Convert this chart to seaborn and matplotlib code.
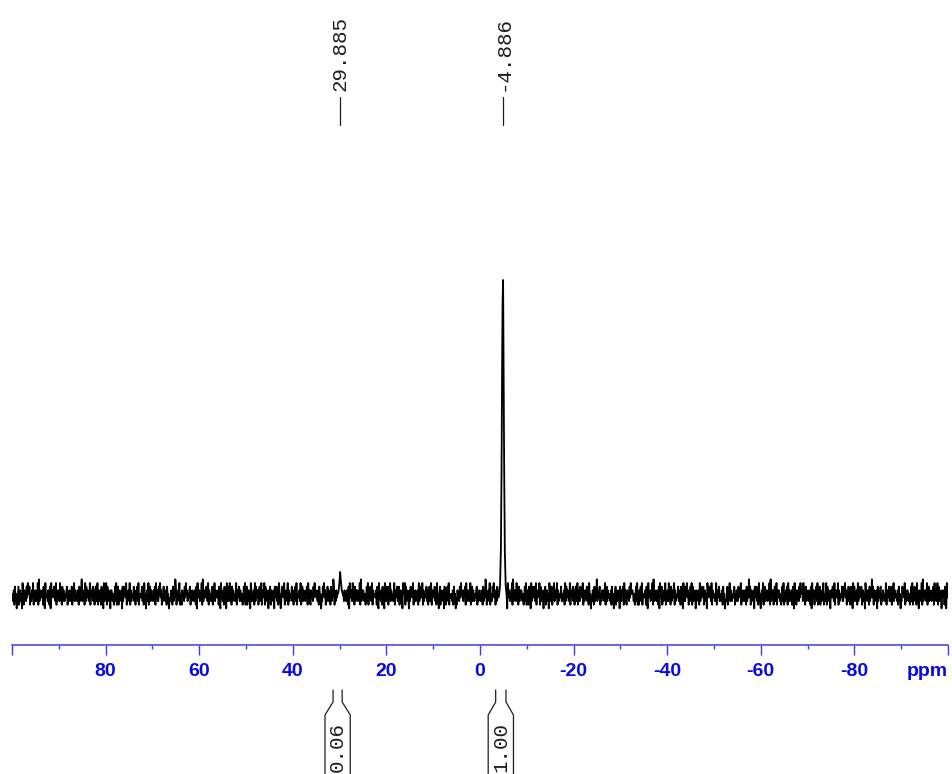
import numpy as np
import pandas as pd
import matplotlib
matplotlib.use("Agg")
import matplotlib.pyplot as plt
from matplotlib.ticker import FixedLocator, FixedFormatter, MultipleLocator
import seaborn as sns

# ---- spectrum data -------------------------------------------------------
# chemical-shift window (ppm), drawn from high to low field
ppm_left, ppm_right = 100.0, -100.0

# picked peaks and their printed labels
peak_ppm = [29.885, -4.886]
peak_labels = ["29.885", "-4.886"]

# line profile of each peak: offset from the peak position (ppm) and intensity
minor_offsets = [-0.6, -0.35, -0.15, 0.0, 0.15, 0.35, 0.6]
minor_heights = [0.0, 0.015, 0.045, 0.073, 0.04, 0.01, 0.0]
main_offsets = [-0.8, -0.6, -0.42, -0.28, -0.15, -0.05, 0.06, 0.16, 0.28, 0.42, 0.6, 0.8]
main_heights = [0.0, 0.03, 0.14, 0.40, 0.77, 1.0, 0.93, 0.73, 0.40, 0.15, 0.03, 0.0]
peak_halfwindow = [0.65, 0.85]

# integral regions (ppm) and integral values
integral_left = [31.4, -3.35]
integral_right = [29.45, -5.55]
integral_values = ["0.06", "1.00"]

# ppm scale
major_ticks = [100, 80, 60, 40, 20, 0, -20, -40, -60, -80, -100]
major_labels = ["", "80", "60", "40", "20", "0", "-20", "-40", "-60", "-80", ""]

# baseline noise, one digit per acquired point, read left to right
noise_rows = [
    "45362745135724635186264537485672536482536354829364546273184553642718466475382645",
    "63845273643546725364347265836443652736493546283746534826547362473582643627451837",
    "58273645166535247382472635461737564825364826355473526473825445736284514638257364",
    "43657284633758462537453627451343652736497253648253264537485635467253645364271846",
    "63548293646475382645347265836454627318453627451837638452736453482654736535247382",
    "57246351863546283746624735826458273645164726354617457362845137564825364826355473",
    "52647382544638257364436572846326453748564536274513375846253743652736497253648253",
    "35467253645364271846638452736463548293646535247382647538264554627318453627451837",
    "34726583645348265473572463518658273645163756482536354628374648263554736247358264",
    "45736284514726354617526473825445362745132645374856436572846346382573643546725364",
    "43652736497253648253375846253754627318455364271846635482936463845273646535247382",
    "36274518376475382645582736451657246351863472658364482635547335462837465348265473",
    "62473582643756482536457362845143652736493546725364463825736445362745134726354617",
    "43657284632645374856653524738252647382545462731845635482936453642718467253648253",
    "63845273644826355473362745183737584625375827364516354628374657246351866475382645",
    "53482654734536274513347265836435467253643756482536436527364947263546174573628451",
    "46382573646354829364624735826465352473824365728463546273184526453748566384527364",
    "53642718465264738254725364825358273645166475382645482635547337584625373627451837",
    "35462837465724635186436527364947263546173546725364534826547334726583644536274513",
    "37564825366535247382457362845163548293644638257364436572846358273645165462731845",
]

# ---- assemble the trace --------------------------------------------------
digits = np.array([int(c) for c in "".join(noise_rows)], dtype=float)
noise = (digits - digits.mean()) * 0.0115
grid = np.linspace(ppm_left, ppm_right, digits.size)

keep = np.ones(grid.size, dtype=bool)
for centre, half in zip(peak_ppm, peak_halfwindow):
    keep &= np.abs(grid - centre) >= half

xs = [grid[keep]]
ys = [noise[keep]]
for centre, offs, hts in zip(peak_ppm, [minor_offsets, main_offsets],
                             [minor_heights, main_heights]):
    xs.append(centre + np.asarray(offs))
    ys.append(np.asarray(hts))

spectrum = pd.DataFrame({"ppm": np.concatenate(xs), "intensity": np.concatenate(ys)})
spectrum = spectrum.sort_values("ppm").reset_index(drop=True)

# ---- figure ----------------------------------------------------------------
sns.set_theme(style="white")
plt.rcParams["font.family"] = ["Liberation Sans", "DejaVu Sans"]

W, H = 953, 774
fig = plt.figure(figsize=(W / 100, H / 100), dpi=100)
ax = fig.add_axes([12 / W, 0.0, 936 / W, 1.0])

# vertical scale: baseline at row 595, tallest point at row 280
def row_to_y(row):
    return (595 - row) / 315.0

def row_to_frac(row):
    return 1.0 - row / H

sns.lineplot(data=spectrum, x="ppm", y="intensity", estimator=None, sort=True,
             color="black", linewidth=1.3, ax=ax)

ax.set_xlim(ppm_left, ppm_right)
ax.set_ylim(row_to_y(H), row_to_y(0))
ax.set_xlabel("")
ax.set_ylabel("")
ax.set_yticks([])
ax.patch.set_alpha(0)

for side in ("top", "left", "right"):
    ax.spines[side].set_visible(False)

axis_blue = "#3a3af2"
label_blue = "#0808e8"
ax.spines["bottom"].set_position(("data", row_to_y(645)))
ax.spines["bottom"].set_color(axis_blue)
ax.spines["bottom"].set_linewidth(1.1)

ax.xaxis.set_major_locator(FixedLocator(major_ticks))
ax.xaxis.set_major_formatter(FixedFormatter(major_labels))
ax.xaxis.set_minor_locator(MultipleLocator(10))
ax.tick_params(axis="x", which="major", bottom=True, direction="out", length=7.2,
               width=1.0, color=axis_blue, labelcolor=label_blue, labelsize=14, pad=5.5)
ax.tick_params(axis="x", which="minor", bottom=True, direction="out", length=2.6,
               width=1.0, color=axis_blue)
for lbl in ax.get_xticklabels():
    lbl.set_fontweight("bold")

trans = ax.get_xaxis_transform()  # x in ppm, y in axes fraction

ax.text(ppm_right, row_to_frac(663), "ppm", transform=trans, ha="right", va="top",
        color=label_blue, fontsize=14, fontweight="bold")

# peak labels at the top
mono = ["Liberation Mono", "DejaVu Sans Mono"]
ink = "#1e1e1e"
for centre, text in zip(peak_ppm, peak_labels):
    ax.plot([centre, centre], [row_to_frac(97), row_to_frac(125)], transform=trans,
            color=ink, linewidth=0.9, clip_on=False)
    ax.text(centre, row_to_frac(91), text, transform=trans, rotation=90,
            ha="center", va="bottom", family=mono, fontsize=15, color=ink)

# integral brackets below the scale
box_half = 2.7  # ppm
for left, right, value in zip(integral_left, integral_right, integral_values):
    mid = (left + right) / 2
    for inner, outer in ((left, mid + box_half), (right, mid - box_half)):
        ax.plot([inner, inner, outer, outer],
                [row_to_frac(690), row_to_frac(702), row_to_frac(715), row_to_frac(H + 5)],
                transform=trans, color=ink, linewidth=0.9, clip_on=False)
    ax.text(mid, row_to_frac(772), value, transform=trans, rotation=90,
            ha="center", va="bottom", family=mono, fontsize=15, color=ink)

fig.savefig("out.png", dpi=100)
